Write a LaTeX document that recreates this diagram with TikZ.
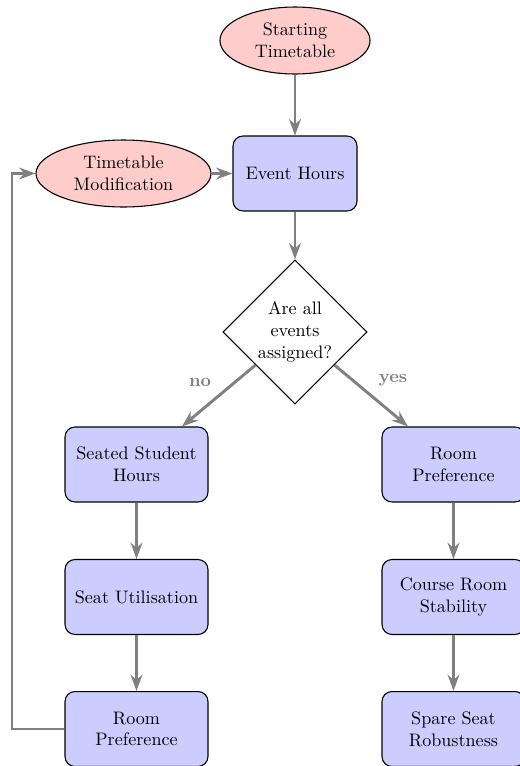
\documentclass[tikz,border=0pt]{standalone}
\usetikzlibrary{shapes.geometric,arrows.meta}
\begin{document}
\begin{tikzpicture}[x=0.5525pt,y=-0.5525pt,
  procbox/.style={draw=black, fill=blue!20, rounded corners=5.5pt, minimum width=79pt, minimum height=41.4pt, align=center, line width=0.6pt},
  termell/.style={draw=black, fill=red!20, ellipse, inner sep=0pt, minimum height=37pt, align=center, line width=0.6pt},
  decide/.style={draw=black, diamond, inner sep=0pt, minimum width=79.6pt, minimum height=79.6pt, align=center, line width=0.6pt},
  flow/.style={draw=gray, line width=1.6pt, -{Stealth[length=9pt,width=6.5pt]}},
  lab/.style={text=gray, font=\bfseries}]
\useasboundingbox (0,0) rectangle (520,766);
\node[termell, minimum width=82.9pt] (start) at (295,40.5) {Starting\\Timetable};
\node[procbox, minimum width=68.5pt] (event) at (295,173.5) {Event Hours};
\node[termell, minimum width=96.7pt] (mod) at (123.5,173.5) {Timetable\\Modification};
\node[decide] (dia) at (295,332) {Are all\\events\\assigned?};
\node[procbox] (ssh) at (136.5,464.5) {Seated Student\\Hours};
\node[procbox] (su) at (136.5,597) {Seat Utilisation};
\node[procbox] (rpl) at (136.5,729) {Room\\Preference};
\node[procbox] (rpr) at (453.5,464.5) {Room\\Preference};
\node[procbox] (crs) at (453.5,597) {Course Room\\Stability};
\node[procbox] (ssr) at (453.5,729) {Spare Seat\\Robustness};
\coordinate (loop) at (12,173.5);
\draw[flow] (start) -- (event);
\draw[flow] (mod) -- (event);
\draw[flow] (event) -- (dia);
\draw[flow] (dia) -- (ssh);
\draw[flow] (dia) -- (rpr);
\draw[flow] (ssh) -- (su);
\draw[flow] (su) -- (rpl);
\draw[flow] (rpr) -- (crs);
\draw[flow] (crs) -- (ssr);
\draw[flow] (rpl.west) -| (loop) -- (mod.west);
\node[lab] (nolab) at (200,382) {no};
\node[lab] (yeslab) at (393,380) {yes};
\end{tikzpicture}
\end{document}
